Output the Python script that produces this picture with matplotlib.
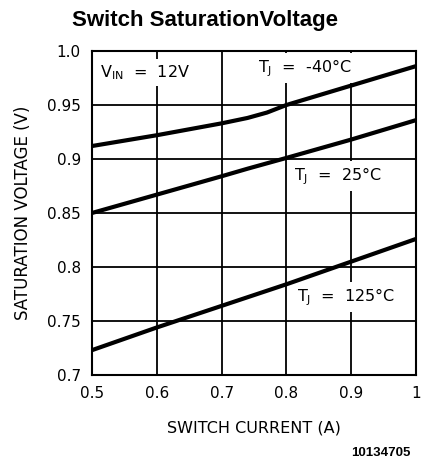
import matplotlib.pyplot as plt

current = [0.5, 0.6, 0.7, 0.74, 0.77, 0.8, 0.9, 1.0]
vsat_m40 = [0.912, 0.922, 0.933, 0.938, 0.943, 0.950, 0.968, 0.986]
vsat_25 = [0.850, 0.867, 0.884, 0.891, 0.896, 0.901, 0.918, 0.936]
vsat_125 = [0.723, 0.744, 0.764, 0.772, 0.778, 0.784, 0.805, 0.826]

xticks = [0.5, 0.6, 0.7, 0.8, 0.9, 1.0]
xtick_labels = ['0.5', '0.6', '0.7', '0.8', '0.9', '1']
yticks = [0.7, 0.75, 0.8, 0.85, 0.9, 0.95, 1.0]
ytick_labels = ['0.7', '0.75', '0.8', '0.85', '0.9', '0.95', '1.0']

plt.rcParams['font.family'] = 'DejaVu Sans'
plt.rcParams['mathtext.default'] = 'regular'

fig = plt.figure(figsize=(4.25, 4.66), dpi=100)
ax = fig.add_axes([0.2165, 0.1953, 0.7625, 0.6953])

ax.set_xlim(0.5, 1.0)
ax.set_ylim(0.7, 1.0)
ax.set_xticks(xticks)
ax.set_xticklabels(xtick_labels)
ax.set_yticks(yticks)
ax.set_yticklabels(ytick_labels)
ax.tick_params(length=0, labelsize=11, pad=8)
ax.grid(True, color='black', linewidth=1.3, zorder=1)
for s in ax.spines.values():
    s.set_linewidth(1.5)

for v in (vsat_m40, vsat_25, vsat_125):
    ax.plot(current, v, color='black', linewidth=3, zorder=3)

box = dict(facecolor='white', edgecolor='none', pad=3)
ax.text(0.512, 0.980, r'$V_{IN}$  =  12V', fontsize=11.5, va='center', bbox=box, zorder=2)
ax.text(0.756, 0.984, r'$T_J$  =  -40°C', fontsize=11.5, va='center', bbox=box, zorder=2)
ax.text(0.812, 0.884, r'$T_J$  =  25°C', fontsize=11.5, va='center', bbox=box, zorder=2)
ax.text(0.817, 0.772, r'$T_J$  =  125°C', fontsize=11.5, va='center', bbox=box, zorder=2)

ax.set_xlabel('SWITCH CURRENT (A)', fontsize=11.5, labelpad=14)
ax.set_ylabel('SATURATION VOLTAGE (V)', fontsize=12, labelpad=11)

fig.text(0.482, 0.955, 'Switch SaturationVoltage', fontsize=16, fontweight='bold',
         family='Liberation Sans', ha='center', va='center')
fig.text(0.965, 0.028, '10134705', fontsize=9.5, fontweight='bold',
         family='Liberation Sans', ha='right', va='center')

fig.savefig('out.png', dpi=100)
